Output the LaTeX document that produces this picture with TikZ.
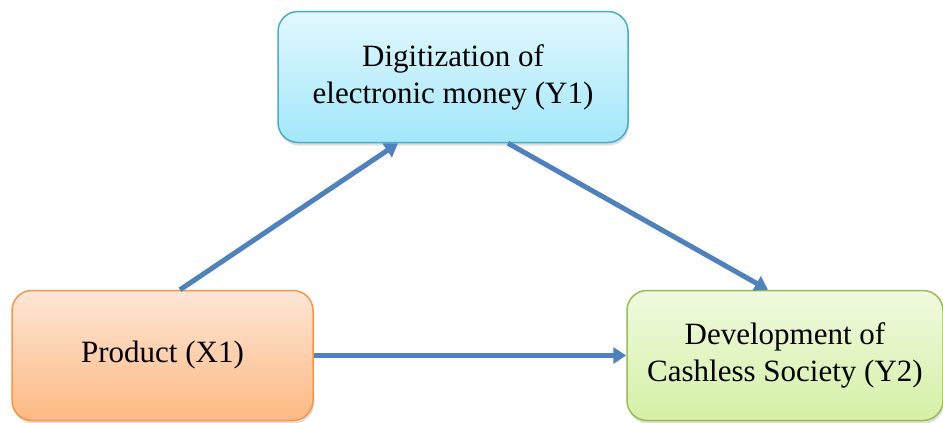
\documentclass[tikz,border=0pt]{standalone}
\usepackage{fontspec}
\setmainfont{Liberation Serif}
\usetikzlibrary{arrows.meta,shadows,calc}
\definecolor{arrowblue}{HTML}{4F81BD}
\definecolor{cyanborder}{HTML}{4BACC6}
\definecolor{cyantop}{HTML}{E2F8FE}
\definecolor{cyanbot}{HTML}{A2E7FA}
\definecolor{orangeborder}{HTML}{F79646}
\definecolor{orangetop}{HTML}{FDE6D6}
\definecolor{orangebot}{HTML}{FDB983}
\definecolor{greenborder}{HTML}{9BBB59}
\definecolor{greentop}{HTML}{F0FADF}
\definecolor{greenbot}{HTML}{D5F0A6}
\tikzset{
  boxbase/.style={rectangle, rounded corners=20pt, line width=1.5pt, align=center,
    font=\fontsize{31}{37}\selectfont, text=black,
    drop shadow={opacity=0.25, shadow xshift=1pt, shadow yshift=-3pt}},
  cyanbox/.style={boxbase, draw=cyanborder, top color=cyantop, bottom color=cyanbot},
  orangebox/.style={boxbase, draw=orangeborder, top color=orangetop, bottom color=orangebot},
  greenbox/.style={boxbase, draw=greenborder, top color=greentop, bottom color=greenbot},
  link/.style={draw=arrowblue, line width=5pt, -{Triangle[length=13pt,width=16pt]}}
}
\begin{document}
\begin{tikzpicture}[x=1pt,y=-1pt]
\useasboundingbox (0,0) rectangle (943,423);
\node[cyanbox, minimum width=350pt, minimum height=131pt] (y1) at (453,77) {Digitization of\\electronic money (Y1)};
\node[orangebox, minimum width=301pt, minimum height=130pt] (x1) at (162.5,355.5) {Product (X1)};
\node[greenbox, minimum width=316pt, minimum height=130pt] (y2) at (785,355.5) {Development of\\Cashless Society (Y2)};
\draw[link] ([xshift=17.5pt]x1.north) -- ([xshift=-55pt]y1.south);
\draw[link] ([xshift=55pt]y1.south) -- ([xshift=-17pt]y2.north);
\draw[link] (x1.east) -- (y2.west);
\end{tikzpicture}
\end{document}
